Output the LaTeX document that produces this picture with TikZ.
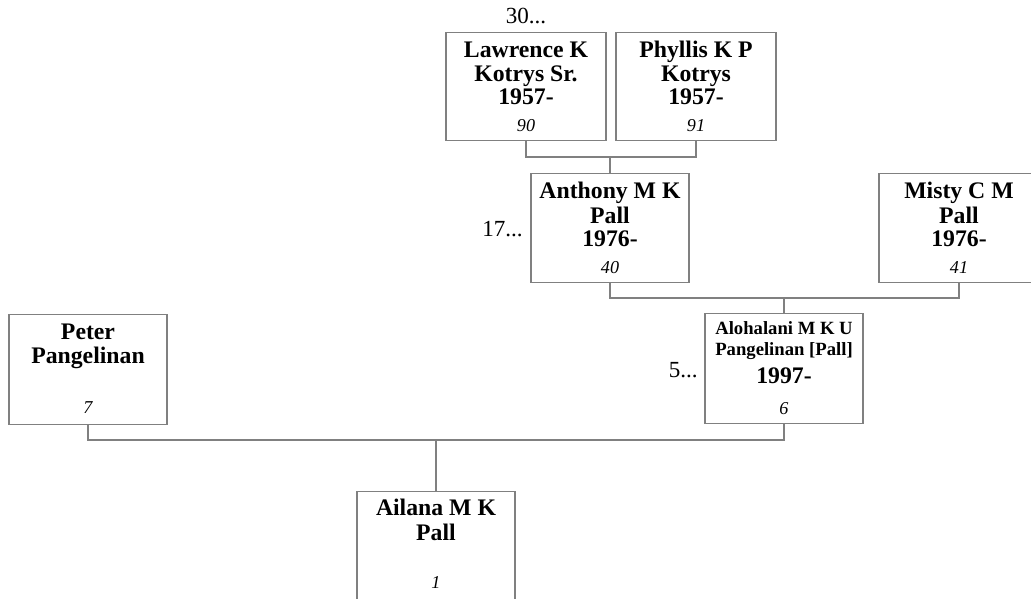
\documentclass[tikz,border=0pt]{standalone}
\usepackage{fontspec}
\setmainfont{Liberation Serif}
\usetikzlibrary{calc}
\definecolor{linegray}{RGB}{128,128,128}
\tikzset{
  pbox/.style={draw=linegray, line width=0.9pt, inner sep=0pt, fill=white, anchor=north},
  conn/.style={draw=linegray, line width=0.9pt},
  nm/.style={anchor=base, inner sep=0pt, font=\fontsize{17.8}{20}\selectfont\bfseries},
  nmsmall/.style={anchor=base, inner sep=0pt, font=\fontsize{14}{16}\selectfont\bfseries},
  num/.style={anchor=base, inner sep=0pt, font=\fontsize{13.6}{16}\selectfont\itshape},
  more/.style={inner sep=0pt, font=\fontsize{17.3}{20}\selectfont}
}
\begin{document}
\begin{tikzpicture}[x=0.75pt,y=-0.75pt]
\useasboundingbox (0,0) rectangle (1031,599);
% boxes
\node[pbox, minimum width=160*0.75pt, minimum height=108*0.75pt] (law) at (526,32) {};
\node[pbox, minimum width=160*0.75pt, minimum height=108*0.75pt] (phy) at (696,32) {};
\node[pbox, minimum width=158*0.75pt, minimum height=109*0.75pt] (ant) at (610,173) {};
\node[pbox, minimum width=160*0.75pt, minimum height=109*0.75pt] (mis) at (959,173) {};
\node[pbox, minimum width=158*0.75pt, minimum height=110*0.75pt] (alo) at (784,313) {};
\node[pbox, minimum width=158*0.75pt, minimum height=110*0.75pt] (pet) at (88,314) {};
\node[pbox, minimum width=158*0.75pt, minimum height=130*0.75pt] (ail) at (436,491) {};
% texts
\node[nm] (law1) at ($(law.north)+(0,26)$) {Lawrence K};
\node[nm] (law2) at ($(law.north)+(0,50)$) {Kotrys Sr.};
\node[nm] (law3) at ($(law.north)+(0,73)$) {1957-};
\node[num] (law4) at ($(law.north)+(0,100)$) {90};
\node[nm] (phy1) at ($(phy.north)+(0,26)$) {Phyllis K P};
\node[nm] (phy2) at ($(phy.north)+(0,50)$) {Kotrys};
\node[nm] (phy3) at ($(phy.north)+(0,73)$) {1957-};
\node[num] (phy4) at ($(phy.north)+(0,100)$) {91};
\node[nm] (ant1) at ($(ant.north)+(0,25)$) {Anthony M K};
\node[nm] (ant2) at ($(ant.north)+(0,50)$) {Pall};
\node[nm] (ant3) at ($(ant.north)+(0,73)$) {1976-};
\node[num] (ant4) at ($(ant.north)+(0,100)$) {40};
\node[nm] (mis1) at ($(mis.north)+(0,25)$) {Misty C M};
\node[nm] (mis2) at ($(mis.north)+(0,50)$) {Pall};
\node[nm] (mis3) at ($(mis.north)+(0,73)$) {1976-};
\node[num] (mis4) at ($(mis.north)+(0,100)$) {41};
\node[nmsmall] (alo1) at ($(alo.north)+(0,21)$) {Alohalani M K U};
\node[nmsmall] (alo2) at ($(alo.north)+(0,42)$) {Pangelinan [Pall]};
\node[nm] (alo3) at ($(alo.north)+(0,70)$) {1997-};
\node[num] (alo4) at ($(alo.north)+(0,101)$) {6};
\node[nm] (pet1) at ($(pet.north)+(0,25)$) {Peter};
\node[nm] (pet2) at ($(pet.north)+(0,49)$) {Pangelinan};
\node[num] (pet3) at ($(pet.north)+(0,99)$) {7};
\node[nm] (ail1) at ($(ail.north)+(0,24)$) {Ailana M K};
\node[nm] (ail2) at ($(ail.north)+(0,49)$) {Pall};
\node[num] (ail3) at ($(ail.north)+(0,97)$) {1};
% continuation labels
\node[more, anchor=base] (m30) at (526,24) {30...};
\node[more, anchor=base east] (m17) at (523,236) {17...};
\node[more, anchor=base east] (m5) at (698,377) {5...};
% connectors
\coordinate (h1) at (0,157);
\coordinate (h2) at (0,298);
\coordinate (h3) at (0,440);
\draw[conn] (law.south) -- (law.south |- h1) -| (phy.south);
\draw[conn] (ant.north) -- (ant.north |- h1);
\draw[conn] (ant.south) -- (ant.south |- h2) -| (mis.south);
\draw[conn] (alo.north) -- (alo.north |- h2);
\draw[conn] (pet.south) -- (pet.south |- h3) -| (alo.south);
\draw[conn] (ail.north) -- (ail.north |- h3);
\end{tikzpicture}
\end{document}
